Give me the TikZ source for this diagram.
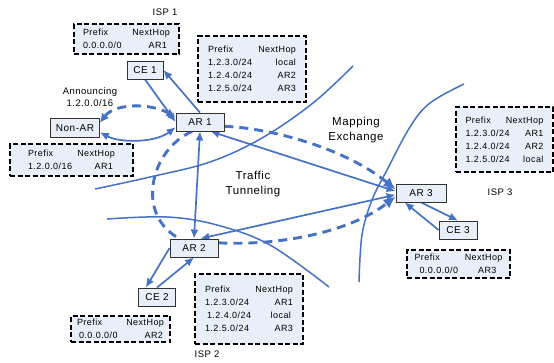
\documentclass[tikz,border=0pt]{standalone}
\usepackage{fontspec}
\setmainfont{Liberation Sans}[LetterSpace=5]
\usetikzlibrary{arrows.meta}
\definecolor{lnblue}{RGB}{68,114,196}
\definecolor{boxfill}{RGB}{233,239,248}
\newcommand{\trow}[3][87pt]{\makebox[#1]{#2\hfill#3}}
\pgfdeclarelayer{bg}
\pgfsetlayers{bg,main}
\tikzset{
  dev/.style={draw=black!80, fill=boxfill, line width=0.8pt, minimum height=18pt, inner sep=0pt, font=\fontsize{10}{11}\selectfont},
  tbl/.style={draw=black, fill=boxfill, line width=1.6pt, dash pattern=on 5pt off 2.5pt, inner sep=0pt, align=left, font=\fontsize{9}{13}\selectfont},
  lbl/.style={font=\fontsize{9.5}{12}\selectfont, align=center, inner sep=0pt},
  biglbl/.style={font=\fontsize{11.5}{15}\selectfont, align=center, inner sep=0pt},
  bnd/.style={draw=lnblue, line width=1.5pt},
  conn/.style={draw=lnblue, line width=1.7pt, -{Latex[length=9pt,width=8pt]}},
  conn2/.style={draw=lnblue, line width=1.7pt, {Latex[length=9pt,width=8pt]}-{Latex[length=9pt,width=8pt]}},
  dloop/.style={draw=lnblue, line width=2.9pt, dash pattern=on 9pt off 6pt},
}
\begin{document}
\begin{tikzpicture}[x=1pt,y=-1pt]
\useasboundingbox (0,0) rectangle (554,362);

% devices
\node[dev, minimum width=36pt] (ce1) at (145,70) {CE 1};
\node[dev, minimum width=48pt] (ar1) at (200,122) {AR 1};
\node[dev, minimum width=49pt, minimum height=19pt] (nonar) at (75,128) {Non-AR};
\node[dev, minimum width=48pt] (ar2) at (194,248) {AR 2};
\node[dev, minimum width=37pt] (ce2) at (157,297) {CE 2};
\node[dev, minimum width=50pt] (ar3) at (421,193) {AR 3};
\node[dev, minimum width=38pt] (ce3) at (458,230) {CE 3};

% tables
\node[tbl, minimum width=105pt, minimum height=30pt] (tisp1) at (126.5,39)
  {\trow{Prefix}{NextHop}\\\trow{0.0.0.0/0}{AR1\hspace*{3pt}}};
\node[tbl, minimum width=108pt, minimum height=66pt] (tar1) at (252,69)
  {\trow[88pt]{Prefix}{NextHop}\\\trow[88pt]{1.2.3.0/24}{local}\\\trow[88pt]{1.2.4.0/24}{AR2}\\\trow[88pt]{1.2.5.0/24}{AR3}};
\node[tbl, minimum width=123pt, minimum height=32pt] (tnonar) at (71.5,160)
  {\trow{Prefix}{NextHop}\\\trow{1.2.0.0/16}{AR1\hspace*{2pt}}};
\node[tbl, minimum width=97pt, minimum height=65pt] (tar3) at (504.5,139.5)
  {\trow[78pt]{Prefix}{NextHop}\\\trow[78pt]{1.2.3.0/24}{AR1}\\\trow[78pt]{1.2.4.0/24}{AR2}\\\trow[78pt]{1.2.5.0/24}{local}};
\node[tbl, minimum width=103pt, minimum height=28pt] (tce3) at (458.5,264)
  {\trow[88pt]{Prefix}{NextHop}\\\trow[88pt]{\hspace*{5pt}0.0.0.0/0}{AR3\hspace*{6pt}}};
\node[tbl, minimum width=108pt, minimum height=70pt] (tar2) at (249,309)
  {\trow[88pt]{Prefix}{NextHop}\\\trow[88pt]{1.2.3.0/24}{AR1}\\\trow[88pt]{\hspace*{2pt}1.2.4.0/24}{local\hspace*{2pt}}\\\trow[88pt]{1.2.5.0/24}{AR3}};
\node[tbl, minimum width=99pt, minimum height=26pt] (tce2) at (120.5,329)
  {\trow{Prefix}{NextHop}\\\trow{\hspace*{2pt}0.0.0.0/0}{AR2\hspace*{1pt}}};

% labels
\node[lbl] (isp1) at (165,12) {ISP 1};
\node[lbl] (isp2) at (207,354) {ISP 2};
\node[lbl] (isp3) at (500,192) {ISP 3};
\node[lbl] (ann) at (90,97) {Announcing\\1.2.0.0/16};
\node[biglbl] (map) at (356,130.5) {Mapping\\Exchange};
\node[biglbl] (tun) at (253,184.5) {Traffic\\Tunneling};

\begin{pgfonlayer}{bg}
% ISP boundaries
\draw[bnd] plot[smooth, tension=0.6] coordinates {(95,189) (150,177) (210,162) (262,138) (313,103) (353,66)};
\draw[bnd] plot[smooth, tension=0.6] coordinates {(107,219) (167,217) (217,225) (270,245) (329,287)};
\draw[bnd] plot[smooth, tension=0.6] coordinates {(464,84) (430,103) (410,127) (387,170) (372,200) (362,235) (359,282)};

% mapping exchange loop
\draw[dloop, -{Latex[length=12pt,width=11pt]}] (ar1.-10) .. controls (270,128) and (345,148) .. (ar3.172);
\draw[dloop, -{Latex[length=12pt,width=11pt]}] (ar2.12) .. controls (280,246) and (350,232) .. (ar3.188);
\draw[dloop] (ar1.-130) .. controls (150,150) and (135,215) .. (ar2.147);

% announcing
\draw[dloop, {Latex[length=9pt,width=9pt]}-{Latex[length=9pt,width=9pt]}] (nonar.12) .. controls (115,103) and (150,103) .. (ar1.168);
\draw[conn2] (nonar.-10) .. controls (120,143) and (155,143) .. (ar1.192);

% CE links
\draw[conn] (ar1.north) -- (ce1.east);
\draw[conn] (ce1.south) -- (ar1.west);
\draw[conn] (ar2.west) -- (ce2.140);
\draw[conn] (ce2.north) -- (ar2.south);
\draw[conn] (ar3.south) -- (ce3.north);
\draw[conn] (ce3.west) -- (ar3.-150);

% tunnels
\draw[conn2] (ar1.south) -- (ar2.north);
\draw[conn2] (ar1.-42) -- (ar3.176);
\draw[conn2] (ar2.56) -- (ar3.184);
\end{pgfonlayer}
\end{tikzpicture}
\end{document}
